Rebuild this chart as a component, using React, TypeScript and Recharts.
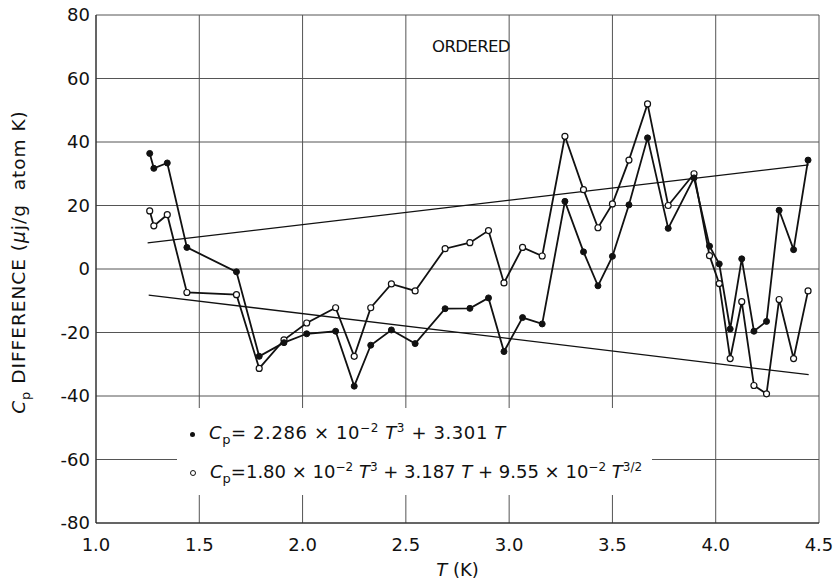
import React from 'react';
import { LineChart, Line, XAxis, YAxis, CartesianGrid } from 'recharts';

const T = [1.26, 1.28, 1.345, 1.44, 1.68, 1.79, 1.91, 2.02, 2.16, 2.25, 2.33, 2.43, 2.545, 2.69, 2.81, 2.9, 2.975, 3.065, 3.16, 3.27, 3.36, 3.43, 3.5, 3.58, 3.67, 3.77, 3.895, 3.97, 4.017, 4.07, 4.126, 4.185, 4.246, 4.307, 4.377, 4.447];
const cpFilled = [36.4, 31.7, 33.4, 6.8, -0.9, -27.5, -23.2, -20.4, -19.6, -36.9, -24.0, -19.2, -23.5, -12.5, -12.4, -9.1, -26.0, -15.3, -17.3, 21.3, 5.4, -5.3, 4.0, 20.2, 41.3, 12.8, 28.7, 7.2, 1.6, -18.9, 3.2, -19.6, -16.5, 18.5, 6.1, 34.3];
const cpOpen = [18.3, 13.6, 17.1, -7.4, -8.1, -31.3, -22.3, -17.0, -12.2, -27.5, -12.2, -4.7, -6.9, 6.4, 8.3, 12.1, -4.4, 6.8, 4.1, 41.8, 25.0, 13.0, 20.5, 34.3, 52.0, 20.0, 30.0, 4.2, -4.6, -28.2, -10.3, -36.7, -39.3, -9.6, -28.2, -6.9];
const upperT = [1.25, 4.45];
const upperY = [8.2, 32.8];
const lowerT = [1.255, 4.45];
const lowerY = [-8.2, -33.3];
const xTicks = [1.0, 1.5, 2.0, 2.5, 3.0, 3.5, 4.0, 4.5];
const yTicks = [-80, -60, -40, -20, 0, 20, 40, 60, 80];

const data = T.map((t, i) => ({ T: t, filled: cpFilled[i], open: cpOpen[i] }));
const upperData = upperT.map((t, i) => ({ T: t, y: upperY[i] }));
const lowerData = lowerT.map((t, i) => ({ T: t, y: lowerY[i] }));

const FONT = '"DejaVu Sans", sans-serif';
const sup: React.CSSProperties = { fontSize: 12, verticalAlign: 'super', lineHeight: 0 };
const sub: React.CSSProperties = { fontSize: 13, verticalAlign: 'sub', lineHeight: 0 };

export default function App() {
  return (
    <div style={{ position: 'absolute', left: 0, top: 0, width: 836, height: 584, background: '#fff', fontFamily: FONT, color: '#111' }}>
      <LineChart width={836} height={584} data={data} margin={{ top: 15, right: 17, bottom: 0, left: 0 }}>
        <CartesianGrid stroke="#555" strokeWidth={1} />
        <XAxis
          dataKey="T"
          type="number"
          domain={[1, 4.5]}
          ticks={xTicks}
          tickFormatter={(v: number) => v.toFixed(1)}
          height={61}
          tickLine={false}
          tickMargin={9}
          axisLine={{ stroke: '#222' }}
          tick={{ fontSize: 18, fill: '#111', fontFamily: FONT }}
          allowDataOverflow
        />
        <YAxis
          type="number"
          domain={[-80, 80]}
          ticks={yTicks}
          width={96}
          tickLine={false}
          tickSize={4}
          tickMargin={2}
          axisLine={{ stroke: '#222' }}
          tick={{ fontSize: 18, fill: '#111', fontFamily: FONT }}
          allowDataOverflow
        />
        <Line data={upperData} dataKey="y" stroke="#111" strokeWidth={1.3} dot={false} isAnimationActive={false} />
        <Line data={lowerData} dataKey="y" stroke="#111" strokeWidth={1.3} dot={false} isAnimationActive={false} />
        <Line dataKey="open" stroke="#111" strokeWidth={1.8} dot={{ r: 3, fill: '#fff', stroke: '#111', strokeWidth: 1.2 }} isAnimationActive={false} />
        <Line dataKey="filled" stroke="#111" strokeWidth={1.8} dot={{ r: 3, fill: '#111', stroke: '#111', strokeWidth: 1 }} isAnimationActive={false} />
      </LineChart>

      <div style={{ position: 'absolute', left: 432, top: 37, fontSize: 16.5, letterSpacing: -0.6 }}>ORDERED</div>

      <div style={{ position: 'absolute', left: 177, top: 408, width: 475, height: 87, background: '#fff', fontSize: 18 }}>
        <div style={{ position: 'absolute', left: 13, top: 14, whiteSpace: 'nowrap', letterSpacing: 0.6 }}>
          <span style={{ display: 'inline-block', width: 5, height: 5, borderRadius: 3, background: '#111', verticalAlign: 'middle', marginRight: 14 }} />
          <i>C</i><span style={sub}>p</span>= 2.286 × 10<span style={sup}>−2</span> <i>T</i><span style={sup}>3</span> + 3.301 <i>T</i>
        </div>
        <div style={{ position: 'absolute', left: 13, top: 53, whiteSpace: 'nowrap' }}>
          <span style={{ display: 'inline-block', width: 4, height: 4, borderRadius: 3, border: '1px solid #111', verticalAlign: 'middle', marginRight: 14 }} />
          <i>C</i><span style={sub}>p</span>=1.80 × 10<span style={sup}>−2</span> <i>T</i><span style={sup}>3</span> + 3.187 <i>T</i> + 9.55 × 10<span style={sup}>−2</span> <i>T</i><span style={sup}>3/2</span>
        </div>
      </div>

      <div style={{ position: 'absolute', left: 0, top: 559, width: 915, textAlign: 'center', fontSize: 18 }}>
        <i>T</i> (K)
      </div>

      <div style={{ position: 'absolute', left: 20, top: 262, width: 0, height: 0 }}>
        <div style={{ position: 'absolute', left: -200, top: -12, width: 400, textAlign: 'center', fontSize: 18.5, letterSpacing: 1, whiteSpace: 'nowrap', transform: 'rotate(-90deg)', transformOrigin: '200px 12px' }}>
          <i>C</i><span style={sub}>p</span> DIFFERENCE (<i>μ</i>j/g&nbsp; atom K)
        </div>
      </div>
    </div>
  );
}
